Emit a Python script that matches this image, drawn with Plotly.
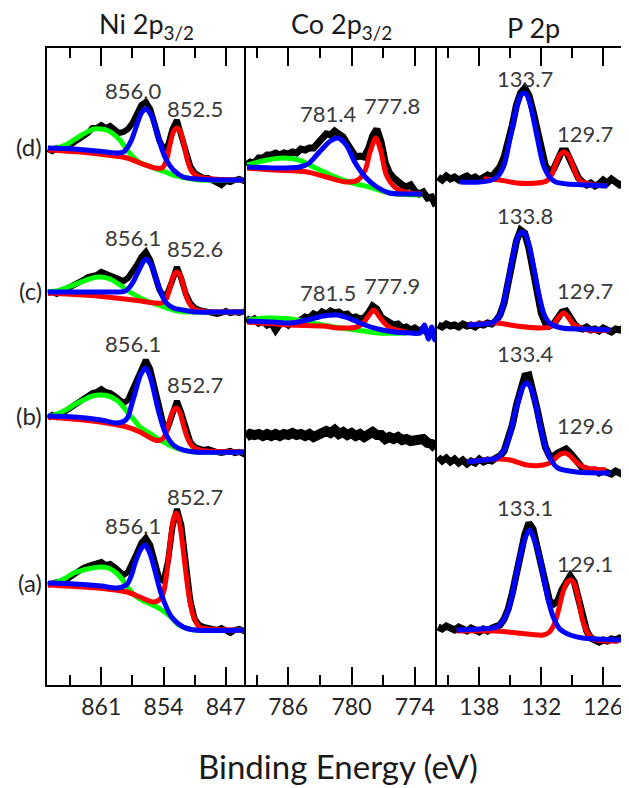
import plotly.graph_objects as go

# ---------------- data (binding energy in eV, intensity in a.u. with row offsets) ----------------
ni_x = [867.0, 866.5, 866.0, 865.5, 865.0, 864.5, 864.0, 863.5, 863.0, 862.5, 862.0, 861.5, 861.0,
        860.5, 860.0, 859.5, 859.0, 858.5, 858.0, 857.5, 857.0, 856.5, 856.0, 855.5, 855.0, 854.5,
        854.0, 853.5, 853.0, 852.5, 852.0, 851.5, 851.0, 850.5, 850.0, 849.5, 849.0, 848.5, 848.0,
        847.5, 847.0, 846.5, 846.0, 845.5, 845.0, 844.8]
ni_d_data = [536, 534, 537, 536, 539, 540, 543, 546, 549, 552, 557, 557, 560, 557, 559, 555, 552, 553,
             556, 562, 572, 580, 583, 576, 561, 545, 536, 540, 556, 565, 549, 531, 519, 512, 509, 507,
             507, 505, 503, 500, 504, 503, 505, 506, 504, 505]
ni_c_data = [392, 393, 391, 394, 396, 398, 400, 403, 405, 408, 409, 410, 413, 411, 410, 408, 405, 404,
             407, 413, 420, 428, 433, 425, 410, 396, 388, 393, 405, 418, 406, 391, 382, 377, 375, 374,
             373, 373, 371, 372, 374, 372, 373, 372, 373, 374]
ni_b_data = [267, 270, 268, 271, 274, 277, 280, 284, 287, 290, 292, 293, 296, 293, 292, 289, 285, 282,
             285, 295, 307, 318, 325, 316, 296, 275, 260, 258, 270, 284, 272, 255, 243, 238, 236, 235,
             236, 234, 233, 232, 233, 234, 232, 233, 231, 233]
ni_a_data = [100, 101, 103, 102, 105, 109, 112, 115, 117, 119, 120, 121, 123, 120, 121, 118, 114, 110,
             113, 121, 132, 142, 147, 140, 124, 107, 104, 124, 158, 176, 160, 122, 85, 66, 60, 58,
             57, 56, 55, 57, 54, 52, 55, 56, 54, 53]

ni_d_sat_x = [867.0, 866.0, 865.0, 864.1, 863.2, 862.6, 861.8, 861.1, 860.4, 859.8, 858.9, 858.1, 857.3,
              856.6, 855.6, 854.8, 853.8, 852.9, 851.4, 850.0, 848.0, 844.8]
ni_d_sat_y = [536, 537, 540, 545, 550, 553, 556, 556, 555, 552, 545, 535, 527, 522, 519, 516, 513, 510,
              507, 505, 505, 505]
ni_d_ox_x = [867.0, 864.1, 861.5, 859.3, 858.5, 858.1, 857.6, 857.2, 856.5, 856.0, 855.3, 854.6, 853.8,
             852.9, 851.8, 850.3, 848.0, 844.8]
ni_d_ox_y = [537, 536, 534, 532, 533, 537, 545, 555, 572, 576, 568, 547, 527, 515, 508, 506, 505, 505]
ni_d_met_x = [867.0, 863.4, 860.4, 858.1, 856.65, 855.0, 854.2, 853.7, 853.3, 852.9, 852.5, 852.1, 851.7,
              851.3, 850.8, 849.9, 848.4, 844.8]
ni_d_met_y = [535, 533, 530, 527, 522, 517, 517, 524, 540, 553, 557, 553, 540, 524, 513, 508, 506, 505]

ni_c_sat_x = [867.0, 866.0, 865.0, 864.1, 863.0, 862.0, 861.1, 860.0, 858.9, 857.6, 856.6, 855.6, 854.5,
              852.9, 851.5, 850.0, 844.8]
ni_c_sat_y = [393, 394, 397, 400, 404, 407, 408, 406, 400, 392, 387, 383, 380, 375, 373, 373, 373]
ni_c_ox_x = [867.0, 864.0, 861.0, 859.0, 858.3, 857.8, 857.3, 856.6, 856.0, 855.4, 854.7, 853.8, 852.9,
             851.8, 850.3, 848.0, 844.8]
ni_c_ox_y = [393, 393, 393, 393, 394, 398, 405, 418, 426, 420, 402, 383, 377, 375, 373, 373, 373]
ni_c_met_x = [867.0, 863.0, 860.4, 857.4, 855.0, 854.2, 853.7, 853.3, 852.9, 852.5, 852.1, 851.7, 851.3,
              850.7, 849.8, 844.8]
ni_c_met_y = [392, 390, 388, 385, 382, 382, 386, 397, 409, 413, 409, 397, 385, 377, 374, 373]

ni_b_sat_x = [867.0, 866.0, 865.0, 864.1, 863.0, 862.0, 861.1, 860.2, 859.3, 858.5, 858.0, 857.3, 856.65,
              855.6, 854.8, 853.8, 852.9, 851.8, 850.5, 844.8]
ni_b_sat_y = [268, 271, 275, 280, 285, 289, 290, 289, 285, 278, 272, 265, 258, 252, 247, 242, 238, 235,
              233, 233]
ni_b_ox_x = [867.0, 864.0, 861.0, 859.3, 858.4, 858.0, 857.6, 857.2, 856.6, 856.0, 855.5, 855.2, 854.6,
             853.8, 852.9, 851.8, 850.5, 844.8]
ni_b_ox_y = [269, 268, 265, 262, 264, 268, 280, 292, 310, 317, 308, 298, 275, 252, 240, 235, 233, 233]
ni_b_met_x = [867.0, 863.0, 860.4, 858.1, 856.65, 855.0, 854.3, 853.8, 853.4, 853.0, 852.6, 852.2, 851.8,
              851.4, 850.8, 850.0, 844.8]
ni_b_met_y = [268, 265, 262, 258, 253, 245, 245, 250, 262, 273, 277, 273, 261, 249, 239, 235, 233]

ni_a_sat_x = [867.0, 866.0, 865.0, 864.1, 863.0, 862.0, 861.1, 860.2, 859.3, 858.5, 857.8, 857.0, 856.0,
              855.0, 854.2, 853.2, 852.3, 851.5, 850.5, 844.8]
ni_a_sat_y = [100, 103, 107, 112, 115, 117, 118, 117, 112, 104, 95, 88, 83, 79, 75, 68, 60, 57, 55, 55]
ni_a_ox_x = [867.0, 864.0, 861.0, 859.3, 858.4, 858.0, 857.6, 857.2, 856.6, 856.1, 855.6, 855.2, 854.3,
             853.6, 853.1, 851.8, 850.5, 844.8]
ni_a_ox_y = [102, 101, 99, 97, 99, 102, 110, 122, 135, 140, 133, 122, 92, 76, 68, 58, 55, 55]
ni_a_met_x = [867.0, 863.0, 860.4, 858.1, 856.65, 855.2, 854.5, 854.0, 853.6, 853.2, 852.9, 852.6, 852.3,
              852.0, 851.6, 851.2, 850.7, 850.0, 849.0, 844.8]
ni_a_met_y = [100, 98, 96, 93, 88, 83, 85, 93, 115, 148, 166, 172, 166, 150, 120, 92, 70, 58, 56, 55]

co_x = [790.0, 789.6, 789.2, 788.8, 788.4, 788.0, 787.6, 787.2, 786.8, 786.4, 786.0, 785.6, 785.2,
        784.8, 784.4, 784.0, 783.6, 783.2, 782.8, 782.4, 782.0, 781.6, 781.2, 780.8, 780.4, 780.0,
        779.6, 779.2, 778.8, 778.4, 778.0, 777.6, 777.2, 776.8, 776.4, 776.0, 775.6, 775.2, 774.8,
        774.4, 774.0, 773.6, 773.2, 772.8, 772.4, 772.0]
co_d_data = [520, 523, 522, 527, 527, 530, 530, 532, 530, 532, 531, 533, 532, 536, 535, 537, 537, 542,
             547, 551, 550, 554, 551, 548, 541, 535, 528, 529, 528, 536, 549, 556, 543, 522, 512, 507,
             503, 500, 498, 500, 494, 491, 493, 487, 488, 479]
co_c_data = [367, 364, 366, 362, 364, 360, 362, 355, 361, 363, 360, 364, 362, 366, 368, 367, 371, 369,
             373, 371, 374, 372, 373, 370, 371, 367, 368, 366, 367, 372, 379, 376, 368, 365, 362, 360,
             361, 357, 358, 355, 357, 354, 356, 352, 354, 350]
co_b_data = [248, 251, 250, 251, 249, 251, 249, 251, 249, 251, 250, 252, 250, 251, 249, 251, 248, 251,
             251, 254, 252, 255, 251, 253, 250, 252, 249, 251, 248, 250, 253, 250, 250, 246, 248, 246,
             248, 245, 246, 244, 245, 244, 246, 242, 241, 237]

co_d_sat_x = [789.9, 788.0, 786.5, 785.0, 783.6, 782.0, 780.2, 778.0, 776.4, 773.3]
co_d_sat_y = [520, 525, 527, 525, 518, 510, 503, 497, 492, 490]
co_d_ox_x = [789.9, 787.4, 784.9, 784.0, 783.3, 782.6, 782.0, 781.3, 780.5, 779.7, 778.7, 777.6, 776.4,
             775.0, 773.3]
co_d_ox_y = [518, 517, 518, 522, 530, 538, 544, 547, 540, 523, 508, 498, 492, 491, 491]
co_d_met_x = [789.9, 787.4, 784.2, 782.4, 780.5, 779.4, 778.7, 778.25, 777.7, 777.2, 776.7, 775.8, 774.5,
              773.3]
co_d_met_y = [517, 515, 513, 508, 503, 505, 515, 533, 547, 533, 510, 497, 492, 491]

co_c_sat_x = [789.9, 788.0, 785.8, 784.2, 781.7, 779.5, 777.5, 774.8]
co_c_sat_y = [365, 367, 366, 363, 358, 355, 352, 352]
co_c_ox_x = [789.9, 787.5, 785.8, 784.2, 782.7, 781.4, 780.3, 779.0, 777.5, 776.0, 774.4, 773.5, 773.1,
             772.7, 772.4, 772.1, 771.95]
co_c_ox_y = [364, 363, 362, 365, 369, 370, 367, 361, 356, 353, 352, 352, 360, 346, 358, 345, 350]
co_c_met_x = [789.9, 785.8, 782.7, 781.2, 779.5, 778.9, 778.4, 777.9, 777.4, 776.9, 776.3, 774.8]
co_c_met_y = [363, 360, 359, 357, 358, 362, 369, 375, 369, 362, 357, 353]

p_x = [142.0, 141.6, 141.2, 140.8, 140.4, 140.0, 139.6, 139.2, 138.8, 138.4, 138.0, 137.6, 137.2, 136.8,
       136.4, 136.0, 135.6, 135.2, 134.8, 134.4, 134.0, 133.6, 133.2, 132.8, 132.4, 132.0, 131.6, 131.2,
       130.8, 130.4, 130.0, 129.6, 129.2, 128.8, 128.4, 128.0, 127.6, 127.2, 126.8, 126.4, 126.0, 125.6,
       125.2, 124.8, 124.4, 124.0, 123.6]
p_d_data = [508, 505, 509, 506, 508, 505, 507, 509, 506, 508, 505, 508, 510, 508, 512, 518, 528, 542, 560,
            580, 592, 597, 590, 574, 553, 535, 519, 514, 516, 525, 534, 534, 525, 515, 507, 503, 500, 502,
            499, 501, 505, 502, 506, 503, 500, 502, 500]
p_c_data = [360, 358, 361, 359, 360, 358, 361, 359, 360, 358, 361, 360, 362, 361, 364, 370, 382, 402, 425,
            444, 455, 452, 437, 414, 390, 372, 362, 359, 361, 366, 373, 374, 367, 361, 357, 356, 358, 355,
            356, 354, 357, 355, 353, 356, 355, 357, 355]
p_b_data = [228, 224, 227, 223, 226, 222, 225, 221, 224, 222, 226, 223, 225, 224, 227, 229, 234, 245, 260,
            280, 298, 309, 310, 295, 276, 256, 238, 229, 229, 232, 235, 236, 232, 226, 220, 217, 216, 214,
            215, 212, 214, 213, 211, 214, 212, 210, 212]
p_a_data = [58, 56, 59, 57, 55, 58, 56, 54, 57, 55, 53, 56, 54, 57, 58, 60, 66, 76, 92, 112, 132, 150, 162,
            156, 138, 121, 100, 84, 81, 84, 95, 104, 109, 103, 87, 66, 54, 47, 44, 43, 45, 44, 46, 45, 47,
            46, 47]

p_d_ox_x = [139.9, 138.0, 136.8, 136.2, 135.6, 135.0, 134.4, 134.0, 133.7, 133.4, 133.0, 132.4, 131.8,
            131.2, 130.6, 129.5, 127.5, 125.6]
p_d_ox_y = [503, 503, 505, 509, 520, 548, 578, 590, 592, 590, 578, 548, 520, 508, 503, 501, 500, 499]
p_d_met_x = [137.6, 136.0, 134.4, 132.4, 131.5, 131.0, 130.6, 130.2, 129.8, 129.4, 129.0, 128.6, 128.2,
             126.9, 125.8]
p_d_met_y = [506, 505, 502, 502, 504, 510, 521, 530, 533, 530, 521, 510, 504, 500, 499]

p_c_ox_x = [139.2, 137.5, 136.6, 136.0, 135.5, 135.0, 134.6, 134.2, 133.85, 133.5, 133.1, 132.7, 132.2,
            131.7, 131.2, 130.0, 127.5, 125.3]
p_c_ox_y = [360, 361, 363, 370, 389, 416, 436, 450, 453, 450, 436, 416, 389, 370, 362, 357, 356, 355]
p_c_met_x = [139.2, 136.3, 134.4, 132.1, 131.2, 130.7, 130.3, 129.85, 129.4, 129.0, 128.6, 127.5, 125.3]
p_c_met_y = [360, 362, 359, 357, 358, 362, 368, 372, 368, 362, 359, 355, 355]

p_b_ox_x = [139.2, 137.5, 136.3, 135.6, 135.0, 134.6, 134.2, 133.8, 133.4, 133.0, 132.6, 132.1, 131.6,
            131.0, 130.4, 128.6, 125.3]
p_b_ox_y = [223, 225, 227, 235, 252, 270, 285, 298, 302, 297, 283, 258, 238, 224, 217, 213, 212]
p_b_met_x = [139.2, 136.3, 135.0, 133.4, 131.8, 131.0, 130.5, 130.1, 129.7, 129.3, 128.9, 128.4, 127.7,
             125.7]
p_b_met_y = [223, 226, 225, 220, 220, 223, 228, 231, 232, 230, 226, 221, 217, 215]

p_a_ox_x = [140.2, 138.0, 136.3, 135.6, 135.0, 134.6, 134.2, 133.7, 133.15, 132.6, 132.0, 131.6, 131.2,
            130.8, 130.2, 129.2, 128.0, 124.2]
p_a_ox_y = [55, 56, 58, 66, 82, 102, 122, 143, 155, 143, 120, 98, 80, 67, 56, 50, 47, 45]
p_a_met_x = [140.2, 136.3, 134.3, 131.8, 131.2, 130.7, 130.3, 129.9, 129.5, 129.15, 128.8, 128.4, 128.0,
             127.5, 127.0, 124.5]
p_a_met_y = [54, 54, 52, 50, 53, 62, 76, 93, 103, 105, 101, 86, 65, 52, 46, 44]

panel_titles = ["Ni 2p<sub>3/2</sub>", "Co 2p<sub>3/2</sub>", "P 2p"]
row_labels = ["(d)", "(c)", "(b)", "(a)"]
ni_peak_labels = [["856.0", "852.5"], ["856.1", "852.6"], ["856.1", "852.7"], ["856.1", "852.7"]]
co_peak_labels = [["781.4", "777.8"], ["781.5", "777.9"]]
p_peak_labels = [["133.7", "129.7"], ["133.8", "129.7"], ["133.4", "129.6"], ["133.1", "129.1"]]

# ---------------- figure ----------------
BLACK, GREEN, RED, BLUE = "#000000", "#00ff00", "#ff0000", "#0000ff"
FONT = "Lato"
fig = go.Figure()


def line(x, y, color, width, xa, ya, smooth=False):
    ln = dict(color=color, width=width)
    if smooth:
        ln.update(shape="spline", smoothing=0.8)
    fig.add_trace(go.Scatter(x=x, y=y, mode="lines", line=ln, xaxis=xa, yaxis=ya,
                             hoverinfo="skip", showlegend=False))


def spectrum(xa, ya, gx, data, sat=None, met=None, ox=None, bw=6):
    line(gx, data, BLACK, bw, xa, ya)
    for comp, col in ((sat, GREEN), (met, RED), (ox, BLUE)):
        if comp is not None:
            line(comp[0], comp[1], col, 5, xa, ya, smooth=True)


spectrum("x", "y", ni_x, ni_d_data, (ni_d_sat_x, ni_d_sat_y), (ni_d_met_x, ni_d_met_y), (ni_d_ox_x, ni_d_ox_y))
spectrum("x", "y", ni_x, ni_c_data, (ni_c_sat_x, ni_c_sat_y), (ni_c_met_x, ni_c_met_y), (ni_c_ox_x, ni_c_ox_y))
spectrum("x", "y", ni_x, ni_b_data, (ni_b_sat_x, ni_b_sat_y), (ni_b_met_x, ni_b_met_y), (ni_b_ox_x, ni_b_ox_y))
spectrum("x", "y", ni_x, ni_a_data, (ni_a_sat_x, ni_a_sat_y), (ni_a_met_x, ni_a_met_y), (ni_a_ox_x, ni_a_ox_y))

spectrum("x2", "y2", co_x, co_d_data, (co_d_sat_x, co_d_sat_y), (co_d_met_x, co_d_met_y), (co_d_ox_x, co_d_ox_y), bw=7)
spectrum("x2", "y2", co_x, co_c_data, (co_c_sat_x, co_c_sat_y), (co_c_met_x, co_c_met_y), (co_c_ox_x, co_c_ox_y), bw=7)
spectrum("x2", "y2", co_x, co_b_data, bw=10)

spectrum("x3", "y3", p_x, p_d_data, None, (p_d_met_x, p_d_met_y), (p_d_ox_x, p_d_ox_y), bw=7)
spectrum("x3", "y3", p_x, p_c_data, None, (p_c_met_x, p_c_met_y), (p_c_ox_x, p_c_ox_y), bw=7)
spectrum("x3", "y3", p_x, p_b_data, None, (p_b_met_x, p_b_met_y), (p_b_ox_x, p_b_ox_y), bw=7)
spectrum("x3", "y3", p_x, p_a_data, None, (p_a_met_x, p_a_met_y), (p_a_ox_x, p_a_ox_y), bw=7)

tickfont = dict(family=FONT, size=23, color="#262626")


def xaxis(domain, rng, dtick, tick0, mdtick):
    return dict(domain=domain, range=rng, tickmode="linear", tick0=tick0, dtick=dtick,
                ticks="inside", ticklen=18, tickwidth=2, tickcolor=BLACK,
                showline=True, linewidth=2, linecolor=BLACK, mirror="ticks",
                showgrid=False, zeroline=False, tickfont=tickfont,
                minor=dict(ticks="inside", ticklen=10, tickwidth=2, tickcolor=BLACK,
                           tick0=tick0, dtick=mdtick, showgrid=False))


def yaxis(anchor):
    return dict(domain=[0, 1], range=[0, 637], anchor=anchor, showline=True, linewidth=2,
                linecolor=BLACK, mirror=False, ticks="", showticklabels=False,
                showgrid=False, zeroline=False)


# the page body adds an 8 px offset, so the figure is 8 px smaller on each axis
d1, d2 = 199 / 582, 390 / 582
fig.update_layout(
    width=621, height=780,
    margin=dict(l=39, r=0, t=40, b=103, autoexpand=False),
    paper_bgcolor="white", plot_bgcolor="white", showlegend=False,
    xaxis=xaxis([0, d1], [867.1, 844.74], 7, 847, 3.5),
    xaxis2=xaxis([d1, d2], [790.0, 771.9], 6, 774, 3),
    xaxis3=xaxis([d2, 1], [142.1, 123.5], 6, 126, 3),
    yaxis=yaxis("x"), yaxis2=yaxis("x2"), yaxis3=yaxis("x3"),
)

ann = []
for i, t in enumerate(panel_titles):
    ann.append(dict(text=t, xref=["x", "x2", "x3"][i] + " domain", x=0.5, yref="paper", y=1,
                    yanchor="bottom", yshift=2, showarrow=False,
                    font=dict(family=FONT, size=27, color="#1a1a1a")))

row_first = [ni_d_data[0], ni_c_data[0], ni_b_data[0], ni_a_data[0]]
for lab, yv in zip(row_labels, row_first):
    ann.append(dict(text=lab, xref="paper", x=0, xanchor="right", xshift=-3, yref="y", y=yv,
                    yshift=3, showarrow=False, font=dict(family=FONT, size=24, color="#262626")))

# peak label placement (label centres, axis coordinates)
ni_lab_pos = [[(857.4, 595), (850.47, 577)], [(857.4, 448), (850.47, 437)],
              [(857.4, 342), (850.47, 301)], [(857.4, 160), (850.47, 189)]]
co_lab_pos = [[(782.2, 572), (776.2, 580)], [(782.2, 393), (776.2, 400)]]
p_lab_pos = [[(133.56, 607), (127.75, 552)], [(133.56, 470), (127.75, 395)],
             [(133.56, 332), (127.75, 260)], [(133.56, 178), (127.75, 122)]]
for labels, poss, xr, yr in ((ni_peak_labels, ni_lab_pos, "x", "y"),
                             (co_peak_labels, co_lab_pos, "x2", "y2"),
                             (p_peak_labels, p_lab_pos, "x3", "y3")):
    for row_l, row_p in zip(labels, poss):
        for txt, (xv, yv) in zip(row_l, row_p):
            ann.append(dict(text=txt, xref=xr, yref=yr, x=xv, y=yv, showarrow=False,
                            xanchor="center", yanchor="middle",
                            font=dict(family=FONT, size=22, color="#3a3a3a")))

ann.append(dict(text="Binding Energy (eV)", xref="paper", x=0.5, yref="paper", y=(685 - 766) / 637,
                yanchor="middle", showarrow=False, font=dict(family=FONT, size=33, color="#1a1a1a")))
fig.update_layout(annotations=ann)

fig.write_html("out.html")
